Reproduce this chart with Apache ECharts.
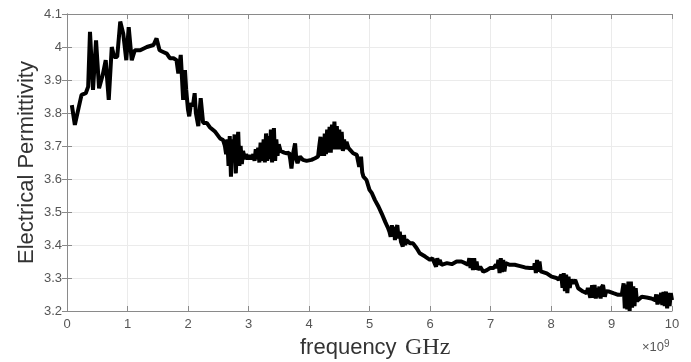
<!DOCTYPE html>
<html>
<head>
<meta charset="utf-8">
<script src="https://cdn.jsdelivr.net/npm/echarts@6/dist/echarts.min.js"></script>
<style>
  html, body { margin: 0; padding: 0; background: #fff; }
  #main { width: 691px; height: 362px; }
</style>
</head>
<body>
<div id="main"></div>
<script>
var freq = [
  0.08, 0.13, 0.19, 0.24, 0.31, 0.35, 0.38, 0.43, 0.48, 0.53, 0.59, 0.64, 0.69, 0.74, 0.78, 0.83, 0.88, 0.93, 0.98, 1.02, 1.07, 1.12, 1.21, 1.32, 1.43, 1.48, 1.53,
  1.59, 1.65, 1.70, 1.76, 1.81, 1.84, 1.88, 1.92, 1.95, 1.97, 2.00, 2.02, 2.05, 2.08, 2.11, 2.13, 2.17, 2.21, 2.25, 2.31, 2.36, 2.45, 2.53, 2.58,
  2.61, 2.63, 2.65, 2.67, 2.69, 2.71, 2.73, 2.75, 2.77, 2.79, 2.81, 2.83, 2.85, 2.87, 2.89, 2.91, 2.94, 2.96, 2.99,
  3.02, 3.05, 3.08, 3.10, 3.12, 3.14, 3.16, 3.18, 3.20, 3.23, 3.25, 3.27, 3.29, 3.31, 3.33, 3.35, 3.37, 3.39, 3.42, 3.44, 3.46, 3.48, 3.50, 3.53, 3.56, 3.59, 3.63, 3.67, 3.69, 3.71, 3.74, 3.77, 3.79, 3.81, 3.85, 3.90, 3.96, 4.04, 4.10, 4.15,
  4.17, 4.19, 4.21, 4.23, 4.25, 4.26, 4.28, 4.30, 4.32, 4.34, 4.36, 4.38, 4.40, 4.42, 4.44, 4.46, 4.48, 4.50, 4.52, 4.54, 4.56, 4.58, 4.60, 4.62, 4.65, 4.68, 4.73, 4.79, 4.81, 4.83, 4.86, 4.88, 4.90, 4.95, 5.00, 5.04, 5.09, 5.15, 5.20, 5.26, 5.31,
  5.33, 5.35, 5.37, 5.39, 5.41, 5.42, 5.44, 5.46, 5.48, 5.50, 5.52, 5.55, 5.57, 5.59, 5.61, 5.67, 5.72, 5.78, 5.83, 5.92, 6.00, 6.04, 6.07, 6.10, 6.12, 6.14, 6.16, 6.19, 6.28, 6.36, 6.44, 6.52, 6.58, 6.63,
  6.65, 6.67, 6.69, 6.71, 6.73, 6.75, 6.77, 6.79, 6.83, 6.88, 6.94, 6.99, 7.05, 7.09, 7.11, 7.13, 7.15, 7.17, 7.19, 7.21, 7.23, 7.25, 7.27, 7.32, 7.40, 7.49, 7.57, 7.65, 7.72,
  7.73, 7.75, 7.77, 7.79, 7.81, 7.83, 7.86, 7.93, 8.01, 8.09, 8.13, 8.15, 8.17, 8.19, 8.21, 8.23, 8.25, 8.27, 8.29, 8.31, 8.33, 8.36, 8.40, 8.45, 8.53, 8.59,
  8.61, 8.63, 8.65, 8.68, 8.70, 8.72, 8.74, 8.76, 8.78, 8.80, 8.82, 8.84, 8.86, 8.89, 8.91, 8.96, 9.03, 9.11, 9.17,
  9.20, 9.22, 9.24, 9.26, 9.28, 9.30, 9.32, 9.34, 9.36, 9.38, 9.40, 9.42, 9.44, 9.50, 9.58, 9.66, 9.72,
  9.74, 9.76, 9.78, 9.80, 9.82, 9.84, 9.86, 9.88, 9.90, 9.92, 9.94, 9.96, 9.98, 10.0
];
var permittivity = [
  3.824, 3.764, 3.814, 3.855, 3.860, 3.880, 4.046, 3.870, 4.020, 3.875, 3.915, 3.960, 3.840, 4.000, 3.970, 3.970, 4.077, 4.040, 3.960, 4.060, 3.960, 3.990, 3.990, 4.000, 4.006, 4.026, 3.990,
  3.985, 3.980, 3.966, 3.966, 3.960, 3.920, 3.976, 3.840, 3.930, 3.870, 3.810, 3.790, 3.830, 3.820, 3.860, 3.800, 3.760, 3.845, 3.770, 3.770, 3.757, 3.743, 3.723, 3.718,
  3.700, 3.675, 3.720, 3.640, 3.730, 3.607, 3.720, 3.650, 3.735, 3.617, 3.700, 3.743, 3.640, 3.700, 3.645, 3.685, 3.660, 3.675, 3.660,
  3.672, 3.660, 3.675, 3.655, 3.690, 3.660, 3.695, 3.650, 3.710, 3.655, 3.720, 3.650, 3.738, 3.655, 3.730, 3.660, 3.750, 3.650, 3.754, 3.655, 3.720, 3.670, 3.705, 3.685, 3.690, 3.680, 3.678, 3.680, 3.660, 3.632, 3.680, 3.708, 3.660, 3.648, 3.668, 3.658, 3.655, 3.658, 3.663, 3.668,
  3.700, 3.728, 3.670, 3.720, 3.670, 3.738, 3.675, 3.750, 3.680, 3.758, 3.680, 3.765, 3.690, 3.774, 3.690, 3.760, 3.690, 3.750, 3.690, 3.743, 3.685, 3.720, 3.690, 3.713, 3.695, 3.688, 3.678, 3.673, 3.655, 3.637, 3.668, 3.620, 3.607, 3.597, 3.567, 3.557, 3.536, 3.516, 3.496, 3.470, 3.450,
  3.440, 3.425, 3.460, 3.430, 3.455, 3.415, 3.450, 3.460, 3.420, 3.440, 3.410, 3.395, 3.430, 3.400, 3.415, 3.405, 3.405, 3.390, 3.375, 3.365, 3.355, 3.360, 3.355, 3.334, 3.360, 3.340, 3.355, 3.340, 3.345, 3.342, 3.350, 3.350, 3.345, 3.340,
  3.360, 3.330, 3.360, 3.324, 3.360, 3.325, 3.350, 3.325, 3.334, 3.319, 3.324, 3.330, 3.330, 3.340, 3.330, 3.355, 3.315, 3.360, 3.318, 3.355, 3.320, 3.345, 3.345, 3.340, 3.340, 3.336, 3.332, 3.330, 3.330,
  3.345, 3.315, 3.355, 3.319, 3.350, 3.320, 3.324, 3.314, 3.304, 3.300, 3.295, 3.289, 3.310, 3.270, 3.315, 3.260, 3.310, 3.254, 3.304, 3.270, 3.295, 3.284, 3.294, 3.269, 3.259, 3.254,
  3.270, 3.274, 3.240, 3.278, 3.240, 3.279, 3.238, 3.270, 3.242, 3.274, 3.238, 3.272, 3.279, 3.243, 3.260, 3.259, 3.254, 3.249, 3.249,
  3.284, 3.208, 3.280, 3.205, 3.289, 3.200, 3.289, 3.210, 3.275, 3.215, 3.269, 3.230, 3.233, 3.243, 3.241, 3.238, 3.233,
  3.250, 3.220, 3.249, 3.223, 3.255, 3.218, 3.258, 3.215, 3.259, 3.208, 3.255, 3.215, 3.254, 3.233
];
var xTicks = [0, 10, 1];      // min, max, step
var yTicks = [3.2, 4.1, 0.1];

var points = freq.map(function (f, i) { return [f, permittivity[i]]; });

var chart = echarts.init(document.getElementById('main'));
var boxColor = '#8a8a8a';
var gridColor = '#ebebeb';
var labelStyle = { color: '#555', fontSize: 13, fontFamily: 'Liberation Sans' };

chart.setOption({
  animation: false,
  grid: { left: 67, right: 19, top: 14, bottom: 51, outerBoundsMode: 'none' },
  xAxis: [
    {
      type: 'value', position: 'bottom',
      min: xTicks[0], max: xTicks[1], interval: xTicks[2],
      axisLine: { lineStyle: { color: boxColor } },
      axisTick: { inside: true, length: 5, lineStyle: { color: boxColor } },
      axisLabel: Object.assign({ margin: 7 }, labelStyle),
      splitLine: { show: true, lineStyle: { color: gridColor } }
    },
    {
      type: 'value', position: 'top',
      min: xTicks[0], max: xTicks[1], interval: xTicks[2],
      axisLine: { lineStyle: { color: boxColor } },
      axisTick: { inside: true, length: 5, lineStyle: { color: boxColor } },
      axisLabel: { show: false },
      splitLine: { show: false }
    }
  ],
  yAxis: [
    {
      type: 'value', position: 'left',
      min: yTicks[0], max: yTicks[1], interval: yTicks[2],
      name: 'Electrical Permittivity',
      nameLocation: 'middle', nameGap: 29, nameMoveOverlap: false,
      nameTextStyle: { fontFamily: 'Liberation Sans', fontSize: 22, color: '#333' },
      axisLine: { show: true, lineStyle: { color: boxColor } },
      axisTick: { show: true, inside: true, length: 5, lineStyle: { color: boxColor } },
      axisLabel: Object.assign({ margin: 5 }, labelStyle),
      splitLine: { show: true, lineStyle: { color: gridColor } }
    },
    {
      type: 'value', position: 'right',
      min: yTicks[0], max: yTicks[1], interval: yTicks[2],
      axisLine: { show: true, lineStyle: { color: boxColor } },
      axisTick: { show: true, inside: true, length: 5, lineStyle: { color: boxColor } },
      axisLabel: { show: false },
      splitLine: { show: false }
    }
  ],
  graphic: [
    {
      // x-axis title: sans "frequency" + serif "GHz", as in the original figure
      type: 'text', left: 300, top: 337,
      style: { text: 'frequency', fill: '#333', fontSize: 22, fontFamily: 'Liberation Sans' }
    },
    {
      type: 'text', left: 405, top: 336,
      style: { text: 'GHz', fill: '#333', fontSize: 24, fontFamily: 'Liberation Serif' }
    },
    {
      type: 'text', left: 642, top: 339,
      style: {
        text: '×10{s|9}',
        fill: '#555', fontSize: 13, fontFamily: 'Liberation Sans',
        rich: { s: { fontSize: 10, fill: '#555', fontFamily: 'Liberation Sans', verticalAlign: 'top', padding: [0, 0, 7, 0] } }
      }
    }
  ],
  series: [
    {
      type: 'line',
      xAxisIndex: 0, yAxisIndex: 0,
      data: points,
      showSymbol: false,
      lineStyle: { color: '#000', width: 4 }
    }
  ]
});
</script>
</body>
</html>
